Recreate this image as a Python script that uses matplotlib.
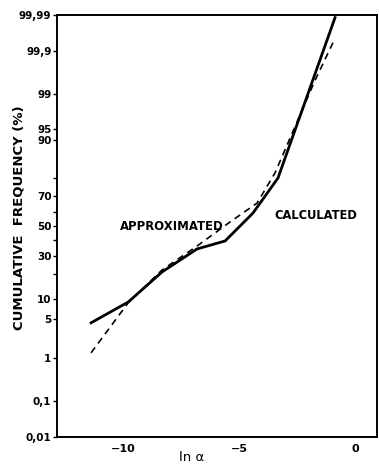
import math
import numpy as np
import matplotlib
matplotlib.use('Agg')
import matplotlib.pyplot as plt

# ln(alpha) vs cumulative frequency (%) on probability paper
x_calc = [-11.38, -9.78, -8.32, -6.81, -5.60, -4.40, -3.32, -0.86]
p_calc = [4.4, 9.0, 20.9, 34.3, 39.6, 59.0, 80.1, 99.988]

x_appr = [-11.38, -9.78, -8.32, -6.81, -5.39, -4.22, -3.45, -2.93, -1.72, -0.86]
p_appr = [1.27, 8.8, 21.9, 36.2, 52.8, 65.7, 82.5, 92.3, 99.49, 99.953]

# the "90" and "95" marks sit a bit off the true scale in the scanned original
yticks = [0.01, 0.1, 1, 5, 10, 30, 50, 70, 93.5, 95.6, 99, 99.9, 99.99]
ylabels = ['0,01', '0,1', '1', '5', '10', '30', '50', '70', '90', '95', '99', '99,9', '99,99']
yminor = [20, 40, 60, 80]
xticks = [-10, -5, 0]


def _ppf(q):
    q = min(max(q, 1e-12), 1 - 1e-12)
    lo, hi = -10.0, 10.0
    for _ in range(70):
        mid = 0.5 * (lo + hi)
        if 0.5 * (1 + math.erf(mid / math.sqrt(2))) < q:
            lo = mid
        else:
            hi = mid
    return 0.5 * (lo + hi)


_fw = np.vectorize(lambda p: _ppf(p / 100.0), otypes=[float])
_inv = np.vectorize(lambda z: 50.0 * (1 + math.erf(z / math.sqrt(2))), otypes=[float])


def forward(p):
    return _fw(np.asarray(p, dtype=float))


def inverse(z):
    return _inv(np.asarray(z, dtype=float))


plt.rcParams['font.family'] = 'DejaVu Sans'
fig = plt.figure(figsize=(3.79, 4.70), dpi=100)
ax = fig.add_axes([57 / 379, 33 / 470, 320 / 379, 422 / 470])
ax.set_yscale('function', functions=(forward, inverse))

ax.plot(x_calc, p_calc, color='black', lw=2.0, solid_joinstyle='miter')
ax.plot(x_appr, p_appr, color='black', lw=1.2, dashes=(4, 3))

ax.set_xlim(-12.85, 0.95)
ax.set_ylim(0.01, 99.99)
ax.set_yticks(yticks)
ax.set_yticklabels(ylabels)
ax.set_yticks(yminor, minor=True)
ax.set_yticklabels([], minor=True)
ax.set_xticks(xticks)
ax.set_xticklabels(['\u221210', '\u22125', '0'])

ax.tick_params(axis='y', which='both', direction='out', length=3, width=1.0, pad=1,
               labelsize=7.5)
ax.tick_params(axis='x', length=0, pad=5, labelsize=8)
for lab in ax.get_yticklabels() + ax.get_xticklabels():
    lab.set_fontweight('bold')
for s in ax.spines.values():
    s.set_linewidth(1.4)

ax.set_ylabel('CUMULATIVE  FREQUENCY (%)', fontsize=9.5, fontweight='bold')
ax.yaxis.set_label_coords(-0.10, 0.52)
ax.set_xlabel('ln α', fontsize=9.5)
ax.xaxis.set_label_coords(0.42, -0.032)

ax.text(0.197, 0.498, 'APPROXIMATED', transform=ax.transAxes, fontsize=8.4,
        fontweight='bold', va='center', ha='left')
ax.text(0.678, 0.524, 'CALCULATED', transform=ax.transAxes, fontsize=8.3,
        fontweight='bold', va='center', ha='left')

fig.savefig('out.png', dpi=100)
